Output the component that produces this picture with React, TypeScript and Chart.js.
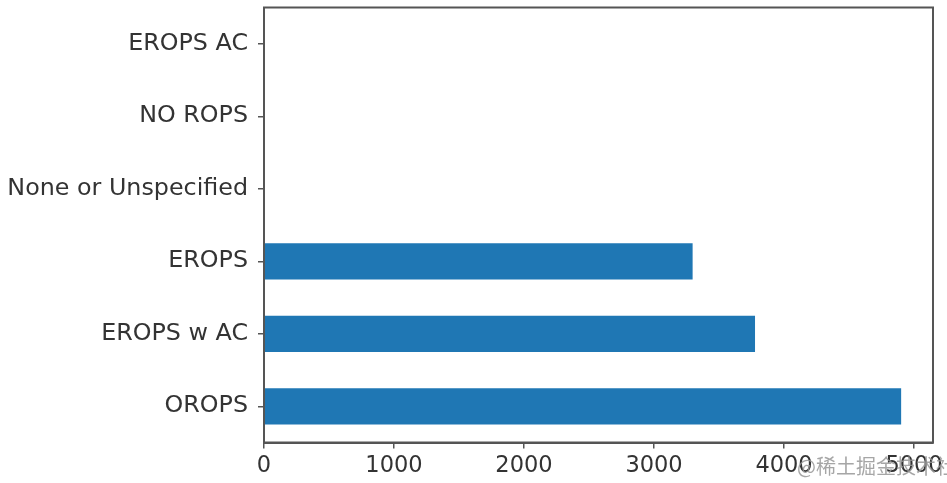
import React, { useEffect, useRef } from "react";
import { Chart, registerables } from "chart.js";

Chart.register(...registerables);

const categories = ["EROPS AC", "NO ROPS", "None or Unspecified", "EROPS", "EROPS w AC", "OROPS"];
const counts = [1, 2, 3, 3297, 3777, 4901];
const xTicks = [0, 1000, 2000, 3000, 4000, 5000];
const watermark = "@稀土掘金技术社区";

const frame = {
  id: "frame",
  afterDraw(chart: any) {
    const { ctx, chartArea: a } = chart;
    ctx.save();
    ctx.strokeStyle = "#555";
    ctx.lineWidth = 2;
    ctx.strokeRect(a.left, a.top, a.right - a.left, a.bottom - a.top);
    ctx.restore();
  },
};

export default function App() {
  const ref = useRef<HTMLCanvasElement>(null);
  useEffect(() => {
    if (!ref.current) return;
    const font = "'DejaVu Sans', sans-serif";
    const chart = new Chart(ref.current, {
      type: "bar",
      data: {
        labels: categories,
        datasets: [
          {
            data: counts,
            backgroundColor: "#1f77b4",
            categoryPercentage: 1,
            barPercentage: 0.5,
          },
        ],
      },
      options: {
        indexAxis: "y",
        responsive: false,
        animation: false,
        layout: { padding: { top: 7.5, right: 14, bottom: 0, left: 0 } },
        plugins: { legend: { display: false }, tooltip: { enabled: false } },
        scales: {
          x: {
            min: 0,
            max: Math.max(...counts) * 1.05,
            afterBuildTicks: (axis: any) => {
              axis.ticks = xTicks.map((v) => ({ value: v }));
            },
            afterFit: (axis: any) => {
              axis.height = 40.5;
              axis.paddingLeft = 0;
              axis.paddingRight = 0;
            },
            ticks: {
              font: { family: font, size: 22.5 },
              color: "#333",
              padding: 4,
              maxRotation: 0,
              autoSkip: false,
              callback: (v: any) => String(v),
            },
            grid: { display: true, drawOnChartArea: false, drawTicks: true, tickLength: 6, color: "#555", lineWidth: 1.5 },
            border: { display: true, color: "#555", width: 2 },
          },
          y: {
            afterFit: (axis: any) => {
              axis.width = 264;
              axis.paddingTop = 0;
              axis.paddingBottom = 0;
            },
            ticks: {
              font: { family: font, size: 23.8 },
              color: "#333",
              padding: 10,
              autoSkip: false,
            },
            grid: { display: true, offset: false, drawOnChartArea: false, drawTicks: true, tickLength: 6, color: "#555", lineWidth: 1.5 },
            border: { display: true, color: "#555", width: 2 },
          },
        },
      },
      plugins: [frame],
    });
    return () => chart.destroy();
  }, []);
  return (
    <div style={{ position: "absolute", left: 0, top: 0, width: 947, height: 483, overflow: "hidden", background: "#fff" }}>
      <canvas ref={ref} width={947} height={483} style={{ display: "block" }} />
      <div
        style={{
          position: "absolute",
          left: 797,
          top: 453,
          fontFamily: "'Noto Sans CJK SC', sans-serif",
          fontSize: 20,
          color: "rgba(150,150,150,0.85)",
          whiteSpace: "nowrap",
          lineHeight: "26px",
        }}
      >
        {watermark}
      </div>
    </div>
  );
}
